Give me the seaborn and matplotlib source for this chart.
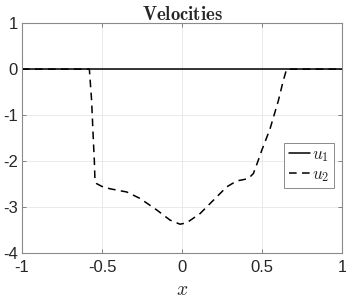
import numpy as np
import pandas as pd
import matplotlib
matplotlib.use("Agg")
import matplotlib.pyplot as plt
import seaborn as sns

# Data
x_u1 = [-1.0, 1.0]
u1 = [0.0, 0.0]

x_u2 = [-1.0, -0.579, -0.565, -0.554, -0.548, -0.544, -0.533, -0.50, -0.45, -0.345,
        -0.2625, -0.158, -0.075, -0.0125, 0.029, 0.1125, 0.196, 0.279, 0.342,
        0.414, 0.446, 0.477, 0.498, 0.55, 0.602, 0.633, 0.654, 1.0]
u2 = [0.0, 0.0, -0.68, -1.55, -1.98, -2.41, -2.49, -2.55, -2.6, -2.67,
      -2.81, -3.06, -3.28, -3.37, -3.34, -3.14, -2.85, -2.56, -2.43,
      -2.38, -2.27, -1.98, -1.77, -1.3, -0.69, -0.25, 0.0, 0.0]

xticks = [-1, -0.5, 0, 0.5, 1]
xticklabels = ["-1", "-0.5", "0", "0.5", "1"]
yticks = [-4, -3, -2, -1, 0, 1]
yticklabels = ["-4", "-3", "-2", "-1", "0", "1"]

sns.set_style("white")
plt.rcParams['font.family'] = ['Liberation Sans', 'DejaVu Sans']
plt.rcParams['mathtext.fontset'] = 'cm'

fig = plt.figure(figsize=(3.46, 3.0), dpi=100)
ax = fig.add_axes([0.0636, 0.156, 0.9248, 0.767])

df1 = pd.DataFrame({"x": x_u1, "u": u1})
df2 = pd.DataFrame({"x": x_u2, "u": u2})
sns.lineplot(data=df1, x="x", y="u", ax=ax, color="black", linewidth=1.1,
             label=r"$u_1$", sort=False)
sns.lineplot(data=df2, x="x", y="u", ax=ax, color="black", linewidth=1.1,
             linestyle=(0, (5, 3.5)), label=r"$u_2$", sort=False)

ax.set_xlim(-1, 1)
ax.set_ylim(-4, 1)
ax.set_xticks(xticks)
ax.set_xticklabels(xticklabels)
ax.set_yticks(yticks)
ax.set_yticklabels(yticklabels)
ax.tick_params(direction="in", length=3, width=0.6, color="#707070",
               labelsize=12, pad=5, top=True, right=True, bottom=True, left=True)
ax.tick_params(axis="y", pad=3)
ax.grid(True, color="#e6e6e6", linewidth=0.6)
ax.set_axisbelow(True)
for s in ax.spines.values():
    s.set_color("#8a8a8a")
    s.set_linewidth(0.8)

ax.set_title(r"$\mathbf{Velocities}$", fontsize=13.5, pad=2)
ax.set_xlabel(r"$x$", fontsize=14, labelpad=5)
ax.set_ylabel("")

leg = ax.legend(loc="upper right", bbox_to_anchor=(0.975, 0.479),
                borderaxespad=0, fancybox=False, framealpha=1,
                edgecolor="#8a8a8a", fontsize=12.5, handlelength=1.2,
                handletextpad=0.15, borderpad=0.25, labelspacing=0.15)
leg.get_frame().set_linewidth(0.7)

fig.savefig("out.png", dpi=100)
